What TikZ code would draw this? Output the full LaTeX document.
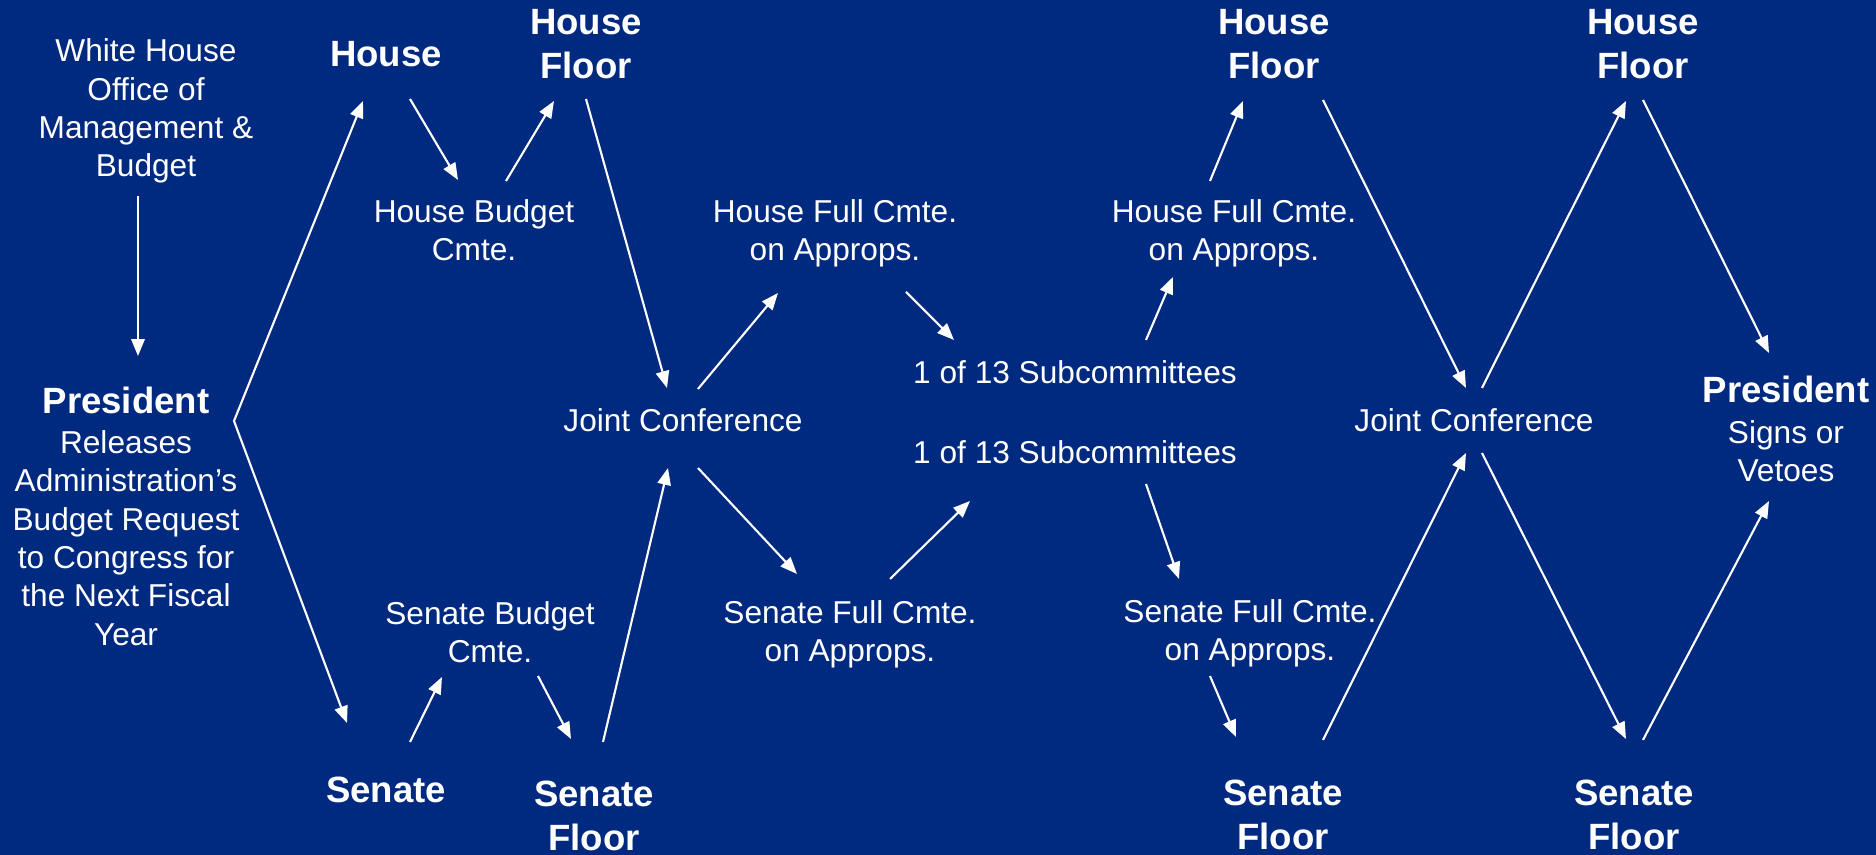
\documentclass[tikz,border=0pt]{standalone}
\usepackage{fontspec}
\setmainfont{Liberation Sans}
\usetikzlibrary{calc,arrows.meta}
\definecolor{bgblue}{RGB}{0,42,128}

\begin{document}
\begin{tikzpicture}[x=0.1mm, y=-0.1mm, color=white, line width=0.6pt,
    >={Triangle[length=4.8pt,width=3.8pt]},
    txt/.style={align=center, inner sep=0pt, font=\fontsize{9}{10.9}\selectfont},
    bld/.style={align=center, inner sep=0pt, font=\fontsize{10.4}{12.7}\selectfont\bfseries}]
    \fill[bgblue] (0,0) rectangle (1876,855);
    \node[txt] (omb) at (146,111) {White House\\Office of\\Management \&\\Budget};
    \node[txt] (pres) at (126,516) {{\fontsize{10.4}{12.7}\selectfont\bfseries President}\\[0.6pt]Releases\\Administration’s\\Budget Request\\to Congress for\\the Next Fiscal\\Year};
    \node[bld] (h) at (386,54) {House};
    \node[bld] (hf1) at (586,44) {House\\Floor};
    \node[txt] (hbc) at (474,230) {House Budget\\Cmte.};
    \node[bld] (sen) at (386,790) {Senate};
    \node[bld] (sf1) at (594,816) {Senate\\Floor};
    \node[txt] (sbc) at (490,632) {Senate Budget\\Cmte.};
    \node[txt] (jc1) at (683,420) {Joint Conference};
    \node[txt] (hfc1) at (835,233) {House Full Cmte.\\on Approps.};
    \node[txt] (sfc1) at (850,634) {Senate Full Cmte.\\on Approps.};
    \node[txt] (sub1) at (1075,372) {1 of 13 Subcommittees};
    \node[txt] (sub2) at (1075,452) {1 of 13 Subcommittees};
    \node[txt] (hfc2) at (1234,233) {House Full Cmte.\\on Approps.};
    \node[txt] (sfc2) at (1250,633) {Senate Full Cmte.\\on Approps.};
    \node[bld] (hf2) at (1274,44) {House\\Floor};
    \node[bld] (sf2) at (1283,815) {Senate\\Floor};
    \node[txt] (jc2) at (1474,420) {Joint Conference};
    \node[bld] (hf3) at (1643,44) {House\\Floor};
    \node[bld] (sf3) at (1634,815) {Senate\\Floor};
    \node[txt] (pres2) at (1786,429) {{\fontsize{10.4}{12.7}\selectfont\bfseries President}\\[0.6pt]Signs or\\Vetoes};
    \coordinate (fork) at ($(pres)+(108,-95)$);
    \draw[->] ($(omb)+(-8,85)$) -- ($(pres)+(12,-160)$);
    \draw[<->] ($(h)+(-23,47)$) -- (fork) -- ($(sen)+(-39,-67)$);
    \draw[->] ($(h)+(24,45)$) -- ($(hbc)+(-16,-50)$);
    \draw[->] ($(hbc)+(32,-49)$) -- ($(hf1)+(-32,57)$);
    \draw[->] ($(hf1)+(0,55)$) -- ($(jc1)+(-16,-32)$);
    \draw[->] ($(sen)+(24,-48)$) -- ($(sbc)+(-48,45)$);
    \draw[->] ($(sbc)+(48,44)$) -- ($(sf1)+(-23,-77)$);
    \draw[->] ($(sf1)+(9,-74)$) -- ($(jc1)+(-15,48)$);
    \draw[->] ($(jc1)+(15,-31)$) -- ($(hfc1)+(-57,60)$);
    \draw[->] ($(hfc1)+(71,59)$) -- ($(sub1)+(-121,-32)$);
    \draw[->] ($(jc1)+(15,48)$) -- ($(sfc1)+(-53,-60)$);
    \draw[->] ($(sfc1)+(40,-55)$) -- ($(sub2)+(-105,49)$);
    \draw[->] ($(sub1)+(71,-32)$) -- ($(hfc2)+(-61,44)$);
    \draw[->] ($(hfc2)+(-24,-52)$) -- ($(hf2)+(-31,57)$);
    \draw[->] ($(sub2)+(71,32)$) -- ($(sfc2)+(-71,-54)$);
    \draw[->] ($(sfc2)+(-40,43)$) -- ($(sf2)+(-47,-78)$);
    \draw[->] ($(hf2)+(49,56)$) -- ($(jc2)+(-8,-32)$);
    \draw[->] ($(jc2)+(8,-32)$) -- ($(hf3)+(-17,57)$);
    \draw[->] ($(sf2)+(40,-75)$) -- ($(jc2)+(-8,33)$);
    \draw[->] ($(jc2)+(8,33)$) -- ($(sf3)+(-8,-76)$);
    \draw[->] ($(hf3)+(0,56)$) -- ($(pres2)+(-17,-76)$);
    \draw[->] ($(sf3)+(9,-75)$) -- ($(pres2)+(-17,72)$);
\end{tikzpicture}
\end{document}
